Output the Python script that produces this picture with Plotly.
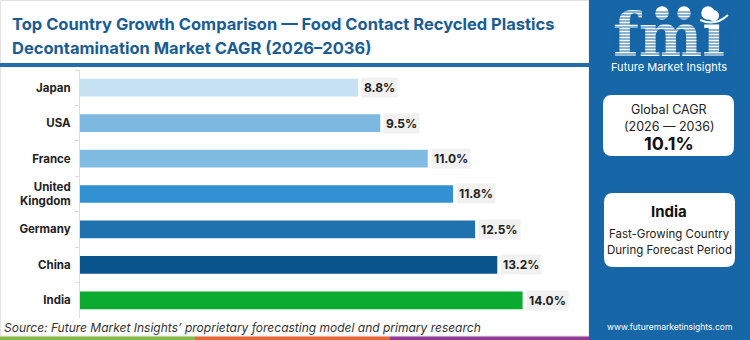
import plotly.graph_objects as go

# ---- data ----
countries = ["Japan", "USA", "France", "United<br>Kingdom", "Germany", "China", "India"]
cagr = [8.8, 9.5, 11.0, 11.8, 12.5, 13.2, 14.0]
bar_colors = ["#c5e1f2", "#7db8e0", "#80bbe2", "#3191d3", "#1f72ae", "#0a548e", "#0aab2f"]

title_lines = [
    "Top Country Growth Comparison \u2014 Food Contact Recycled Plastics",
    "Decontamination Market CAGR (2026\u20132036)",
]
source_text = "Source: Future Market Insights\u2019 proprietary forecasting model and primary research"
global_cagr = "10.1%"
global_period = "(2026 \u2014 2036)"
top_country = "India"

# ---- canvas geometry (pixels) ----
W, H = 750, 340
PLOT_L, PLOT_R, PLOT_T, PLOT_B = 80, 570, 70, 318

def px(x):
    return x / W

def py(y):
    return 1 - y / H

PANEL = "#1766a7"
TITLE_BLUE = "#1a5d94"
FONT = "Inter"

fig = go.Figure()

fig.add_trace(go.Bar(
    y=countries, x=cagr, orientation="h",
    marker=dict(color=bar_colors, line=dict(width=0)),
    width=0.5, hoverinfo="skip", showlegend=False,
))

# Logo wordmark on a full-canvas pixel-space subplot so striping shapes can sit above it
fig.add_trace(go.Scatter(
    x=[669], y=[41], mode="text", text=["<b>fmi</b>"],
    textposition="middle center",
    textfont=dict(family="DejaVu Serif", size=60, color="white"),
    xaxis="x2", yaxis="y2", cliponaxis=False, hoverinfo="skip", showlegend=False,
))

shapes = []
# light frame around the chart area
shapes.append(dict(type="rect", xref="paper", yref="paper",
                   x0=px(0.5), x1=px(589), y0=py(0.5), y1=py(336),
                   line=dict(color="#e2e2e2", width=1), fillcolor="rgba(0,0,0,0)", layer="below"))
# title underline
shapes.append(dict(type="rect", xref="paper", yref="paper",
                   x0=px(0), x1=px(590), y0=py(63), y1=py(67),
                   line=dict(width=0), fillcolor="#1f6fae", layer="below"))
# right side panel
shapes.append(dict(type="rect", xref="paper", yref="paper",
                   x0=px(589), x1=px(750), y0=py(0), y1=py(340),
                   line=dict(width=0), fillcolor=PANEL, layer="below"))
# bottom colour strip
for x0, x1, c in [(0, 195, "#84bb4a"), (195, 390, "#e8683a"), (390, 589, "#8e3b96")]:
    shapes.append(dict(type="rect", xref="paper", yref="paper",
                       x0=px(x0), x1=px(x1), y0=py(336.5), y1=py(340),
                       line=dict(width=0), fillcolor=c, layer="below"))

def rounded_box(x0, y0, x1, y1, r):
    pts = [
        f"M{px(x0 + r)},{py(y0)}",
        f"L{px(x1 - r)},{py(y0)}",
        f"Q{px(x1)},{py(y0)} {px(x1)},{py(y0 + r)}",
        f"L{px(x1)},{py(y1 - r)}",
        f"Q{px(x1)},{py(y1)} {px(x1 - r)},{py(y1)}",
        f"L{px(x0 + r)},{py(y1)}",
        f"Q{px(x0)},{py(y1)} {px(x0)},{py(y1 - r)}",
        f"L{px(x0)},{py(y0 + r)}",
        f"Q{px(x0)},{py(y0)} {px(x0 + r)},{py(y0)}",
        "Z",
    ]
    return dict(type="path", xref="paper", yref="paper", path=" ".join(pts),
                fillcolor="white", line=dict(width=0), layer="below")

shapes.append(rounded_box(603, 95, 734, 156, 9))
shapes.append(rounded_box(604, 193, 735, 267, 9))

# logo emblems above the wordmark, with the swoosh beneath them
for cx in [662, 684, 708]:
    shapes.append(dict(type="circle", xref="paper", yref="paper",
                       x0=px(cx - 6), x1=px(cx + 6), y0=py(7), y1=py(19),
                       line=dict(color="white", width=1.5), fillcolor="white", layer="above"))
shapes.append(dict(type="path", xref="paper", yref="paper",
                   path=f"M{px(700)},{py(20)} Q{px(715)},{py(27)} {px(728)},{py(15)}",
                   line=dict(color="white", width=2), layer="above"))
# horizontal striping across the wordmark
stripe_path = " ".join(f"M{px(610)},{py(y)} L{px(700)},{py(y)}" for y in range(12, 62, 3))
stripe_path += " " + " ".join(f"M{px(700)},{py(y)} L{px(730)},{py(y)}" for y in range(30, 62, 3))
shapes.append(dict(type="path", xref="paper", yref="paper", path=stripe_path,
                   line=dict(color=PANEL, width=1), layer="above"))

annotations = []
for i, line in enumerate(title_lines):
    annotations.append(dict(xref="paper", yref="paper", x=px(10), y=py(24 + 24 * i),
                            xanchor="left", yanchor="middle", showarrow=False,
                            text=f"<b>{line}</b>",
                            font=dict(family=FONT, size=16.5, color=TITLE_BLUE)))

for c, v in zip(countries, cagr):
    annotations.append(dict(x=v, y=c, xref="x", yref="y", xanchor="left", yanchor="middle",
                            xshift=3, showarrow=False, text=f"<b>{v:.1f}%</b>",
                            bgcolor="#f1f1f1", borderpad=2,
                            font=dict(family=FONT, size=12, color="#222222")))

annotations.append(dict(xref="paper", yref="paper", x=px(2), y=py(327), xanchor="left",
                        yanchor="middle", showarrow=False, text=f"<i>{source_text}</i>",
                        font=dict(family=FONT, size=12, color="#333333")))

cx = 669
panel_text = [
    ("Future Market Insights", 67, 11, "white", False),
    ("Global CAGR", 110, 12.5, "#222222", False),
    (global_period, 126, 12.5, "#222222", False),
    (global_cagr, 143, 18, "#111111", True),
    (top_country, 211, 15, "#111111", True),
    ("Fast-Growing Country", 234, 11.5, "#222222", False),
    ("During Forecast Period", 250, 11.5, "#222222", False),
    ("www.futuremarketinsights.com", 327, 8.5, "white", False),
]
for txt, y, size, color, bold in panel_text:
    annotations.append(dict(xref="paper", yref="paper", x=px(cx), y=py(y),
                            xanchor="center", yanchor="middle", showarrow=False,
                            text=f"<b>{txt}</b>" if bold else txt,
                            font=dict(family=FONT, size=size, color=color)))

fig.update_layout(
    width=W, height=H,
    margin=dict(l=0, r=0, t=0, b=0, autoexpand=False),
    paper_bgcolor="white", plot_bgcolor="rgba(0,0,0,0)",
    bargap=0.5,
    xaxis=dict(domain=[px(PLOT_L), px(PLOT_R)], range=[0, 15.5], visible=False,
               showgrid=False, zeroline=False, fixedrange=True, anchor="y"),
    yaxis=dict(domain=[py(PLOT_B), py(PLOT_T)], anchor="x",
               type="category", categoryorder="array", categoryarray=countries,
               autorange="reversed", showgrid=False, zeroline=False, automargin=False,
               showline=True, linecolor="#dddddd", linewidth=1,
               ticks="outside", tickson="boundaries", ticklen=4, tickcolor="#dddddd",
               ticklabelstandoff=6,
               tickfont=dict(family=FONT, size=11.5, color="#222222", weight="bold")),
    xaxis2=dict(domain=[0, 1], range=[0, W], visible=False, fixedrange=True, anchor="y2"),
    yaxis2=dict(domain=[0, 1], range=[H, 0], visible=False, fixedrange=True, anchor="x2"),
    shapes=shapes,
    annotations=annotations,
    showlegend=False,
)

fig.write_html("out.html")
